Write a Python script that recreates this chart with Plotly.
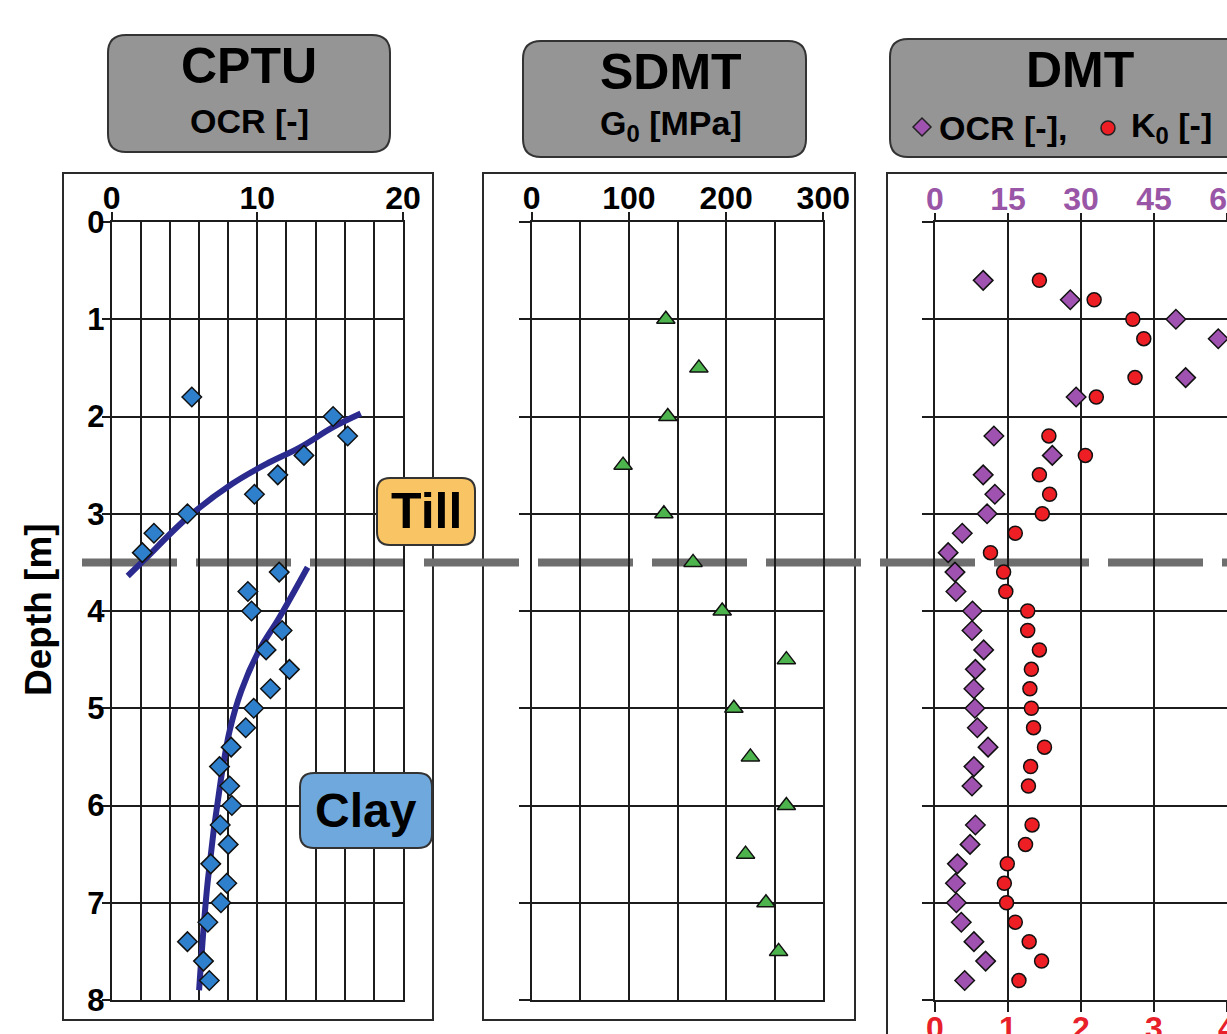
import plotly.graph_objects as go

W, H = 1227, 1034

# ---------------- data ----------------
cptu_depth = [1.8, 2.0, 2.2, 2.4, 2.6, 2.8, 3.0, 3.2, 3.4, 3.6, 3.8, 4.0, 4.2, 4.4, 4.6, 4.8,
              5.0, 5.2, 5.4, 5.6, 5.8, 6.0, 6.2, 6.4, 6.6, 6.8, 7.0, 7.2, 7.4, 7.6, 7.8]
cptu_ocr = [5.5, 15.2, 16.2, 13.2, 11.4, 9.8, 5.2, 2.9, 2.1, 11.5, 9.35, 9.6, 11.7, 10.6, 12.2, 10.9,
            9.75, 9.2, 8.2, 7.4, 8.1, 8.25, 7.45, 8.0, 6.8, 7.9, 7.5, 6.6, 5.2, 6.3, 6.7]

till_trend_ocr = [1.1, 2.2, 5.2, 8.3, 10.6, 12.9, 15.2, 17.1]
till_trend_depth = [3.64, 3.48, 3.04, 2.69, 2.49, 2.32, 2.11, 1.97]
clay_trend_ocr = [13.45, 11.5, 10.1, 8.9, 8.1, 7.5, 6.6, 6.0]
clay_trend_depth = [3.55, 4.07, 4.41, 4.82, 5.23, 5.73, 6.77, 7.9]

sdmt_depth = [1.0, 1.5, 2.0, 2.5, 3.0, 3.5, 4.0, 4.5, 5.0, 5.5, 6.0, 6.5, 7.0, 7.5]
sdmt_g0 = [138, 172, 140, 94, 136, 166, 196, 262, 208, 225, 262, 220, 241, 254]

dmt_depth = [0.6, 0.8, 1.0, 1.2, 1.6, 1.8, 2.2, 2.4, 2.6, 2.8, 3.0, 3.2, 3.4, 3.6, 3.8, 4.0, 4.2,
             4.4, 4.6, 4.8, 5.0, 5.2, 5.4, 5.6, 5.8, 6.2, 6.4, 6.6, 6.8, 7.0, 7.2, 7.4, 7.6, 7.8]
dmt_ocr = [9.9, 27.8, 49.5, 58.2, 51.5, 29.0, 12.1, 24.1, 9.9, 12.3, 10.7, 5.6, 2.7, 4.1, 4.3, 7.7, 7.6,
           10.0, 8.3, 8.0, 8.2, 8.7, 10.9, 8.0, 7.6, 8.3, 7.2, 4.6, 4.2, 4.4, 5.4, 8.0, 10.4, 6.1]
dmt_k0 = [1.43, 2.18, 2.71, 2.86, 2.74, 2.21, 1.56, 2.06, 1.43, 1.57, 1.47, 1.10, 0.76, 0.94, 0.97, 1.27, 1.27,
          1.43, 1.32, 1.30, 1.32, 1.35, 1.50, 1.31, 1.28, 1.33, 1.24, 0.99, 0.95, 0.98, 1.10, 1.29, 1.46, 1.15]

boundary_depth = 3.5
depth_range = [8, 0]
cptu_range = [0, 20]
sdmt_range = [0, 300]
k0_range = [0, 4]
dmt_ocr_range = [0, 60]

# ---------------- styling ----------------
FONT = "Arial, Liberation Sans, sans-serif"
GRID = "#1c1c1c"
BLUE = "#2f80cc"
NAVY = "#2b2b8f"
GREEN = "#4db34d"
PURPLE = "#a052b0"
RED = "#ee1f24"
PURPLE_TXT = "#9a56a6"
RED_TXT = "#e8202a"


def X(v):
    return v / W


def Y(v):
    return 1 - v / H


y_dom = [Y(1000), Y(222)]

fig = go.Figure()

fig.add_trace(go.Scatter(x=till_trend_ocr, y=till_trend_depth, mode="lines",
                         line=dict(color=NAVY, width=6, shape="spline"),
                         xaxis="x", yaxis="y", showlegend=False))
fig.add_trace(go.Scatter(x=clay_trend_ocr, y=clay_trend_depth, mode="lines",
                         line=dict(color=NAVY, width=6, shape="spline"),
                         xaxis="x", yaxis="y", showlegend=False))
fig.add_trace(go.Scatter(x=cptu_ocr, y=cptu_depth, mode="markers",
                         marker=dict(symbol="diamond", size=15, color=BLUE,
                                     line=dict(color="#111", width=1.5)),
                         xaxis="x", yaxis="y", showlegend=False))
fig.add_trace(go.Scatter(x=sdmt_g0, y=sdmt_depth, mode="markers",
                         marker=dict(symbol="triangle-up", size=16, color=GREEN,
                                     line=dict(color="#111", width=1.5)),
                         xaxis="x2", yaxis="y2", showlegend=False))
fig.add_trace(go.Scatter(x=dmt_k0, y=dmt_depth, mode="markers",
                         marker=dict(symbol="circle", size=14, color=RED,
                                     line=dict(color="#111", width=1.5)),
                         xaxis="x3", yaxis="y3", showlegend=False))
fig.add_trace(go.Scatter(x=dmt_ocr, y=dmt_depth, mode="markers",
                         marker=dict(symbol="diamond", size=15, color=PURPLE,
                                     line=dict(color="#111", width=1.5)),
                         xaxis="x4", yaxis="y3", showlegend=False))

common = dict(showgrid=True, gridcolor=GRID, gridwidth=2, zeroline=False,
              showline=True, linecolor=GRID, linewidth=2, mirror=True,
              ticks="outside", tickcolor=GRID, tickwidth=2, automargin=False,
              ticklabeloverflow="allow")
tf_black = dict(family=FONT, size=32, color="black", weight="bold")

fig.update_layout(
    xaxis=dict(common, domain=[X(111.7), X(403)], range=cptu_range, side="top", anchor="y",
               tick0=0, dtick=10, ticklen=8, tickfont=tf_black, ticklabelstandoff=-10,
               minor=dict(dtick=2, showgrid=True, gridcolor=GRID, gridwidth=2)),
    yaxis=dict(common, domain=y_dom, range=depth_range, anchor="x", dtick=1, ticklen=8,
               ticklabelstandoff=-9,
               tickfont=dict(family=FONT, size=31, color="black", weight="bold")),
    xaxis2=dict(common, domain=[X(531.7), X(823.3)], range=sdmt_range, side="top", anchor="y2",
                tick0=0, dtick=100, ticklen=8, tickfont=tf_black, ticklabelstandoff=-10,
                minor=dict(dtick=50, showgrid=True, gridcolor=GRID, gridwidth=2)),
    yaxis2=dict(common, domain=y_dom, range=depth_range, anchor="x2", dtick=1, ticklen=11,
                showticklabels=False),
    xaxis3=dict(common, domain=[X(935), 1.0], range=k0_range, side="bottom", anchor="y3",
                tick0=0, dtick=1, ticklen=10, ticklabelstandoff=-11,
                tickfont=dict(family=FONT, size=32, color=RED_TXT, weight="bold")),
    xaxis4=dict(range=dmt_ocr_range, overlaying="x3", side="top", anchor="y3",
                tick0=0, dtick=15, ticks="outside", ticklen=8, tickcolor=GRID, tickwidth=2,
                showgrid=False, zeroline=False, showline=False, automargin=False,
                ticklabeloverflow="allow", ticklabelstandoff=-10,
                tickfont=dict(family=FONT, size=32, color=PURPLE_TXT, weight="bold")),
    yaxis3=dict(common, domain=y_dom, range=depth_range, anchor="x3", dtick=1, ticklen=11,
                showticklabels=False),
)


def rr_path(x0, y0, x1, y1, r):
    return (f"M {X(x0 + r)},{Y(y0)} L {X(x1 - r)},{Y(y0)} Q {X(x1)},{Y(y0)} {X(x1)},{Y(y0 + r)} "
            f"L {X(x1)},{Y(y1 - r)} Q {X(x1)},{Y(y1)} {X(x1 - r)},{Y(y1)} "
            f"L {X(x0 + r)},{Y(y1)} Q {X(x0)},{Y(y1)} {X(x0)},{Y(y1 - r)} "
            f"L {X(x0)},{Y(y0 + r)} Q {X(x0)},{Y(y0)} {X(x0 + r)},{Y(y0)} Z")


shapes = []
# outer panel boxes
for (a, b, c, d) in [(63, 173, 433, 1020), (483, 173, 855, 1020), (887, 173, 1260, 1060)]:
    shapes.append(dict(type="rect", xref="paper", yref="paper", x0=X(a), x1=X(c), y0=Y(d), y1=Y(b),
                       line=dict(color="#2a2a2a", width=2), fillcolor="rgba(0,0,0,0)", layer="below"))
# header boxes
for (a, b, c, d) in [(108, 35, 390, 152), (523, 41, 806, 157), (890, 39, 1260, 157)]:
    shapes.append(dict(type="path", xref="paper", yref="paper", path=rr_path(a, b, c, d, 18),
                       line=dict(color="#333", width=2), fillcolor="#959596", layer="below"))
# boundary dashed line
shapes.append(dict(type="line", xref="paper", yref="y", x0=X(82), x1=1.0,
                   y0=boundary_depth, y1=boundary_depth,
                   line=dict(color="#6e6e6e", width=8, dash="95px,19px"), layer="below"))
# soil labels boxes
shapes.append(dict(type="path", xref="paper", yref="paper", path=rr_path(377, 478, 475, 545, 13),
                   line=dict(color="#333", width=2), fillcolor="#f9c463", layer="above"))
shapes.append(dict(type="path", xref="paper", yref="paper", path=rr_path(300, 773, 432, 848, 14),
                   line=dict(color="#333", width=2), fillcolor="#6fa8dc", layer="above"))
# DMT legend symbols
cx, cy, s = 922, 127, 9
shapes.append(dict(type="path", xref="paper", yref="paper",
                   path=f"M {X(cx - s)},{Y(cy)} L {X(cx)},{Y(cy - s)} L {X(cx + s)},{Y(cy)} L {X(cx)},{Y(cy + s)} Z",
                   line=dict(color="#222", width=1.5), fillcolor=PURPLE, layer="above"))
cx, cy, s = 1108, 128, 7
shapes.append(dict(type="circle", xref="paper", yref="paper",
                   x0=X(cx - s), x1=X(cx + s), y0=Y(cy + s), y1=Y(cy - s),
                   line=dict(color="#222", width=1.5), fillcolor=RED, layer="above"))

ann = []


def text(t, x, y, size, xanchor="center", angle=0):
    ann.append(dict(text=t, x=X(x), y=Y(y), xref="paper", yref="paper", showarrow=False,
                    xanchor=xanchor, yanchor="middle", textangle=angle,
                    font=dict(family=FONT, size=size, color="black", weight="bold")))


text("CPTU", 249, 66, 50)
text("OCR [-]", 249, 121, 34)
text("SDMT", 671, 72, 50)
text("G<sub>0</sub> [MPa]", 671, 126, 34)
text("DMT", 1080, 70, 50)
text("OCR [-],", 937, 128, 34, xanchor="left")
text("K<sub>0</sub> [-]", 1129, 128, 34, xanchor="left")
text("Till", 426, 511, 50)
text("Clay", 366, 810, 48)
text("Depth [m]", 38, 610, 37, angle=-90)

fig.update_layout(
    shapes=shapes, annotations=ann,
    width=W, height=H, autosize=False,
    margin=dict(l=0, r=0, t=0, b=0, pad=0),
    paper_bgcolor="white", plot_bgcolor="white",
    template="none", showlegend=False,
    font=dict(family=FONT, color="black"),
)

fig.write_html("out.html", config={"displayModeBar": False},
               post_script="document.body.style.margin='0px';document.body.style.overflow='hidden';")
